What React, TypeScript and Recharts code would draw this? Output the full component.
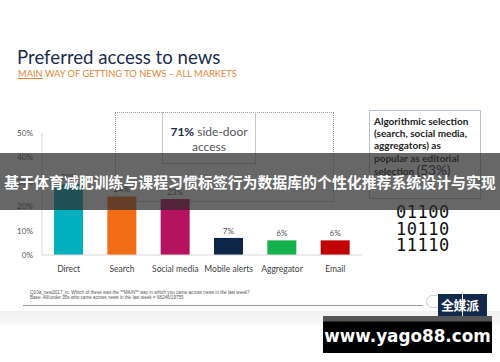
import { BarChart, Bar, XAxis, YAxis, Cell, LabelList } from "recharts";

// Reuters Institute slide: main way of getting to news
const categories = ["Direct", "Search", "Social media", "Mobile alerts", "Aggregator", "Email"];
const shares = [29, 24, 23, 7, 6, 6];
const barColors = ["#00B0BC", "#F36C16", "#B5125F", "#0E2748", "#16B14F", "#C10505"];
const yTicks = [0, 10, 20, 30, 40, 50];
const binaryRows = ["01100", "10110", "11110"];

const data = categories.map((name, i) => ({ name, share: shares[i] }));

const FONT = "Lato, 'Open Sans', sans-serif";

export default function App() {
  return (
    <div
      style={{
        position: "absolute",
        left: 0,
        top: 0,
        width: 500,
        height: 362,
        background: "#fff",
        overflow: "hidden",
        fontFamily: FONT,
      }}
    >
      {/* title */}
      <div style={{ position: "absolute", left: 17, top: 46, fontSize: 18.6, color: "#1B2C4C", whiteSpace: "nowrap" }}>
        Preferred access to news
      </div>
      <div style={{ position: "absolute", left: 18, top: 68, fontSize: 9.3, color: "#E38536", whiteSpace: "nowrap" }}>
        <span style={{ textDecoration: "underline" }}>MAIN</span> WAY OF GETTING TO NEWS – ALL MARKETS
      </div>

      {/* dotted side-door box */}
      <div
        style={{
          position: "absolute",
          left: 115,
          top: 112,
          width: 219,
          height: 90,
          border: "1px dotted #9a9a9a",
          boxSizing: "border-box",
        }}
      />
      <div
        style={{
          position: "absolute",
          left: 162,
          top: 112,
          width: 94,
          height: 52,
          borderLeft: "1px solid #c8c8c8",
          borderRight: "1px solid #c8c8c8",
          borderBottom: "1px solid #c8c8c8",
          boxSizing: "border-box",
          textAlign: "center",
          fontSize: 12,
          lineHeight: "15px",
          color: "#555",
          paddingTop: 12,
        }}
      >
        <b style={{ color: "#1B2C4C" }}>71%</b> side-door
        <br />
        access
      </div>

      {/* algorithmic note */}
      <div
        style={{
          position: "absolute",
          left: 369,
          top: 110,
          width: 112,
          height: 89,
          border: "1px solid #b9c3cc",
          boxSizing: "border-box",
          padding: "4px 0 0 4px",
          fontSize: 10,
          lineHeight: "12.2px",
          fontWeight: 700,
          color: "#222",
          whiteSpace: "nowrap",
        }}
      >
        Algorithmic selection
        <br />
        (search, social media,
        <br />
        aggregators) as
        <br />
        popular as editorial
        <br />
        selection <span style={{ fontSize: 13.5, color: "#1B2C4C", fontWeight: 400 }}>(53%)</span>
      </div>

      {/* binary digits */}
      <div
        style={{
          position: "absolute",
          left: 396,
          top: 204,
          fontFamily: "'DejaVu Sans Mono', monospace",
          fontSize: 17,
          lineHeight: "16.5px",
          color: "#111",
          letterSpacing: 0.5,
        }}
      >
        {binaryRows.map((r) => (
          <div key={r}>{r}</div>
        ))}
      </div>

      <div style={{ position: "absolute", left: 0, top: 0 }}>
        <BarChart
          width={500}
          height={362}
          data={data}
          margin={{ top: 133, right: 138, bottom: 91, left: 0 }}
          barSize={29}
        >
          <XAxis
            dataKey="name"
            axisLine={{ stroke: "#d9d9d9" }}
            tickLine={false}
            tick={{ fontSize: 8.5, fill: "#404040", fontFamily: FONT }}
            tickMargin={5}
            height={16}
            interval={0}
          />
          <YAxis
            width={42}
            domain={[0, 50]}
            ticks={yTicks}
            axisLine={{ stroke: "#d9d9d9" }}
            tickLine={false}
            tickMargin={3}
            tickFormatter={(v) => `${v}%`}
            tick={{ fontSize: 8.2, fill: "#595959", fontFamily: FONT }}
          />
          <Bar dataKey="share" isAnimationActive={false}>
            {data.map((d, i) => (
              <Cell key={d.name} fill={barColors[i]} />
            ))}
            <LabelList
              dataKey="share"
              position="top"
              offset={4}
              formatter={(v: number) => `${v}%`}
              style={{ fontSize: 8.2, fill: "#595959", fontFamily: FONT }}
            />
          </Bar>
        </BarChart>
      </div>

      {/* footnote */}
      <div
        style={{
          position: "absolute",
          left: 30,
          top: 290,
          fontSize: 4.6,
          lineHeight: "5.4px",
          color: "#555",
          whiteSpace: "nowrap",
          fontFamily: "'Liberation Sans', sans-serif",
        }}
      >
        Q10a_new2017_rc. Which of these was the **MAIN** way in which you came across news in the last week?
        <br />
        Base: All/under 35s who came across news in the last week = 68246/19755
      </div>
      <div style={{ position: "absolute", left: 23, top: 305, width: 400, height: 1, background: "#9a9a9a" }} />
      <div
        style={{
          position: "absolute",
          left: 0,
          top: 311,
          width: 500,
          height: 14,
          background: "linear-gradient(#efefef, #fafafa)",
        }}
      />

      {/* logo */}
      <div
        style={{
          position: "absolute",
          left: 426,
          top: 295,
          width: 14,
          height: 11,
          borderRadius: 7,
          border: "1px solid #ccc",
          background: "#fff",
        }}
      />
      <div style={{ position: "absolute", left: 438, top: 294, width: 24, height: 25, background: "#13294B" }} />
      <div style={{ position: "absolute", left: 463, top: 294, width: 24, height: 25, background: "#13294B" }} />
      <div
        style={{
          position: "absolute",
          left: 441,
          top: 295,
          fontSize: 13,
          fontWeight: 700,
          color: "#fff",
          fontFamily: "'Noto Sans CJK SC', sans-serif",
          letterSpacing: -0.5,
          whiteSpace: "nowrap",
        }}
      >
        全媒派
      </div>

      {/* banner overlay */}
      <div
        style={{
          position: "absolute",
          left: 0,
          top: 153,
          width: 500,
          height: 57,
          background: "rgba(45,45,45,0.72)",
          color: "#fff",
          fontFamily: "'Noto Sans CJK SC', sans-serif",
          fontWeight: 700,
          fontSize: 14.9,
          lineHeight: "57px",
          textAlign: "center",
          whiteSpace: "nowrap",
        }}
      >
        基于体育减肥训练与课程习惯标签行为数据库的个性化推荐系统设计与实现
      </div>

      {/* watermark */}
      <div
        style={{
          position: "absolute",
          left: 323,
          top: 316,
          width: 169,
          height: 37,
          background: "linear-gradient(#555 0px, #555 5px, #000 6px)",
          color: "#fff",
          fontFamily: "'DejaVu Sans', sans-serif",
          fontWeight: 700,
          fontSize: 16.8,
          lineHeight: "40px",
          textAlign: "center",
          whiteSpace: "nowrap",
        }}
      >
        www.yago88.com
      </div>
    </div>
  );
}
